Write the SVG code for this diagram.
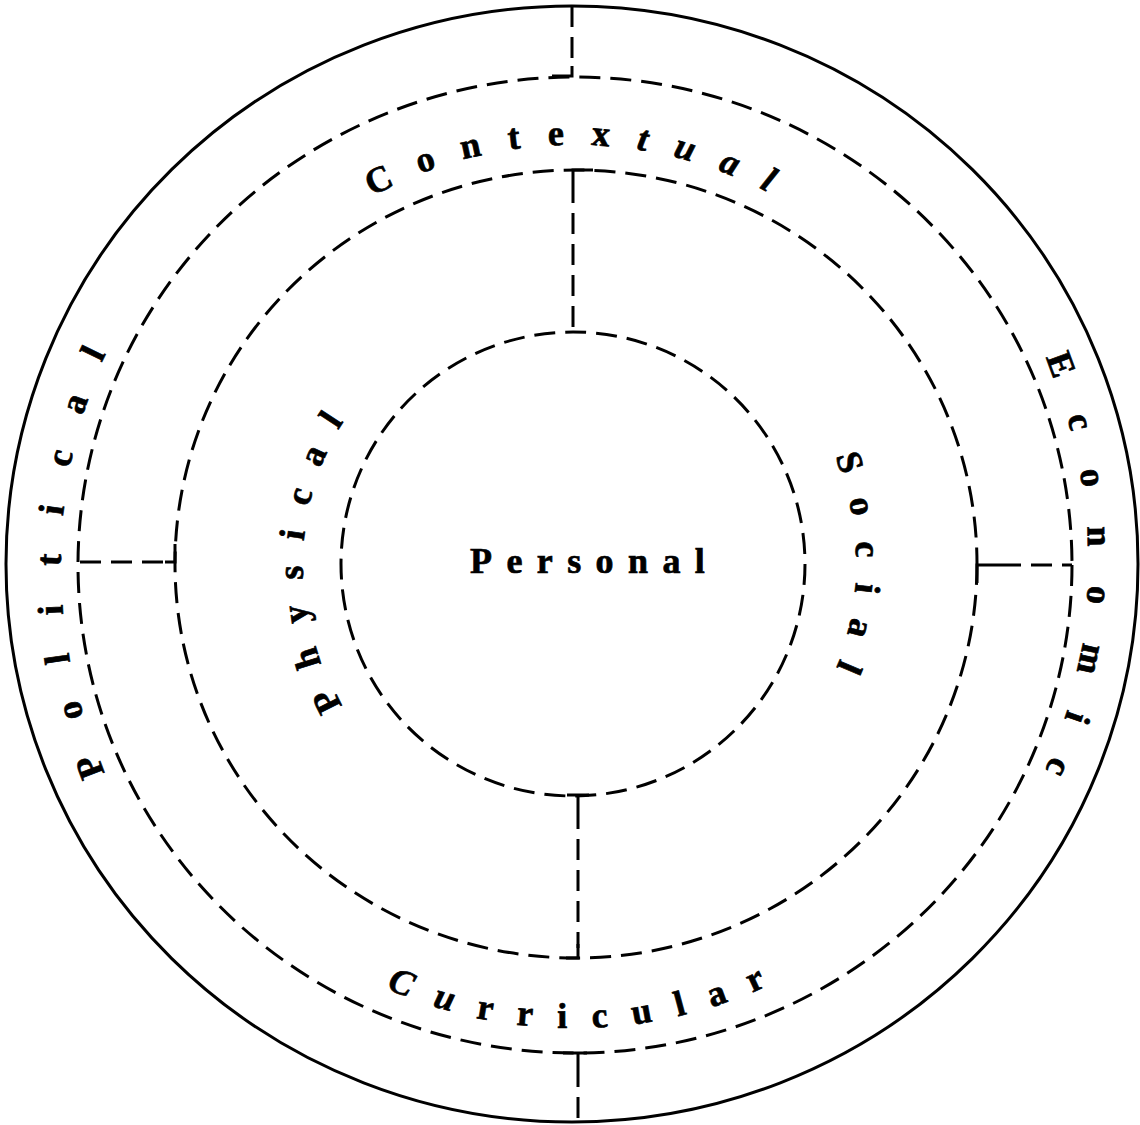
<svg xmlns="http://www.w3.org/2000/svg" width="1140" height="1125" viewBox="0 0 1140 1125">
<style>
.solid{fill:none;stroke:#000;stroke-width:3}
.dash{fill:none;stroke:#000;stroke-width:3;stroke-dasharray:21 10}
.lbl{font-family:"Liberation Serif","Times New Roman",serif;font-weight:bold;font-size:36px;fill:#000;stroke:#000;stroke-width:0.7}
.it{font-style:italic}
</style>
<defs>
<path id="p-ctx" d="M 154,565 A 420 420 0 0 1 994,565"/>
<path id="p-cur" d="M 111,565 A 463 463 0 0 0 1037,565"/>
<path id="p-pol" d="M 573,1076 A 512 512 0 0 1 573,52"/>
<path id="p-eco" d="M 574,50 A 514 514 0 0 1 574,1078"/>
<path id="p-phy" d="M 573,834 A 270 270 0 0 1 573,294"/>
<path id="p-soc" d="M 573,281 A 283 283 0 0 1 573,847"/>
</defs>
<rect width="1140" height="1125" fill="#fff"/>
<g id="ring-outer"><ellipse class="solid" cx="572" cy="564" rx="566" ry="558"/></g>
<g id="ring-2"><ellipse class="dash" cx="575" cy="565" rx="497" ry="488"/></g>
<g id="ring-3"><ellipse class="dash" cx="576" cy="564" rx="401" ry="394"/></g>
<g id="ring-inner"><ellipse class="dash" cx="573" cy="564" rx="232" ry="232"/></g>
<g id="connectors">
<path class="dash" d="M 572,6 V 66"/>
<path class="solid" d="M 552,76 H 572 V 66"/>
<path class="solid" d="M 593,170 H 573 V 182"/>
<path class="dash" d="M 573,182 V 332"/>
<path class="dash" d="M 80,562 H 165"/>
<path class="solid" d="M 165,562 H 175 V 544"/>
<path class="solid" d="M 1000,565 H 977 V 583"/>
<path class="dash" d="M 1000,565 H 1072"/>
<path class="solid" d="M 567,795 H 589 M 578,795 V 808"/>
<path class="dash" d="M 578,808 V 948"/>
<path class="solid" d="M 578,944 V 958 H 566"/>
<path class="solid" d="M 563,1053 H 587 M 578,1053 V 1066"/>
<path class="dash" d="M 578,1066 V 1122"/>
</g>
<g id="node-personal"><text class="lbl" x="470" y="573" letter-spacing="14.4">Personal</text></g>
<g id="node-contextual"><text class="lbl" letter-spacing="27.1"><textPath href="#p-ctx" startOffset="449">Contex<tspan class="it">tual</tspan></textPath></text></g>
<g id="node-curricular"><text class="lbl" letter-spacing="25.1"><textPath href="#p-cur" startOffset="534"><tspan class="it">Cu</tspan>rricular</textPath></text></g>
<g id="node-political"><text class="lbl" letter-spacing="38.2"><textPath href="#p-pol" startOffset="589">Political</textPath></text></g>
<g id="node-economic"><text class="lbl" letter-spacing="38.9"><textPath href="#p-eco" startOffset="595">Economic</textPath></text></g>
<g id="node-physical"><text class="lbl" letter-spacing="24.4"><textPath href="#p-phy" startOffset="275">Physical</textPath></text></g>
<g id="node-social"><text class="lbl" letter-spacing="24.9"><textPath href="#p-soc" startOffset="334">Social</textPath></text></g>
</svg>
